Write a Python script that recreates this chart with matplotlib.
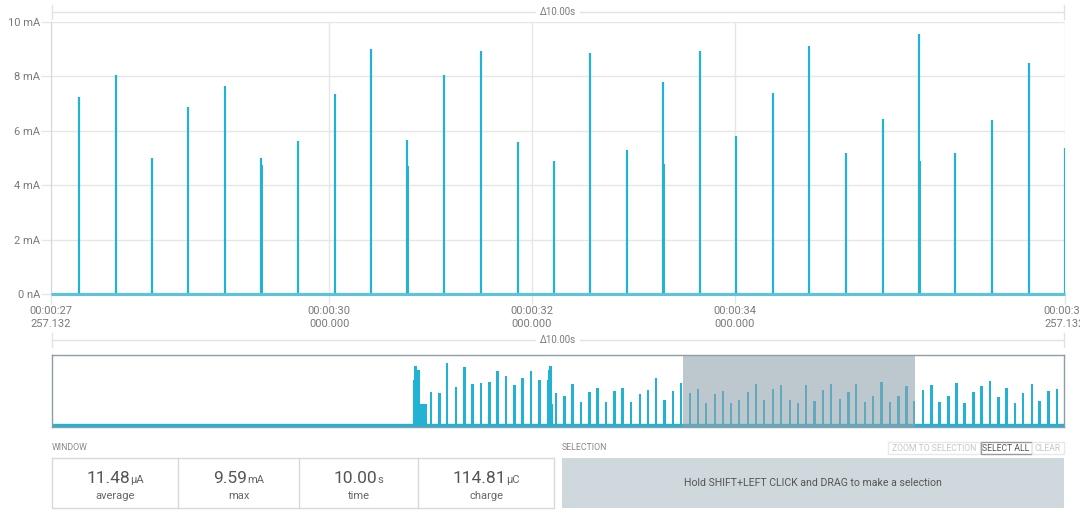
import matplotlib
matplotlib.use("Agg")
import matplotlib.pyplot as plt
from matplotlib.patches import Rectangle

plt.rcParams['font.family'] = ['Roboto', 'DejaVu Sans']

# -----------------------------
# DATA
# -----------------------------
win_start = 27.257132   # s, left edge of the window
win_end = 37.257132     # s, right edge
total_time = 43.71      # s, length of the full recording (overview)

# main window: current spikes (time in s, peak in mA)
spike_t = [27.533, 27.898, 28.254, 28.609, 28.977, 29.329, 29.691, 30.054,
           30.417, 30.770, 31.135, 31.497, 31.858, 32.213, 32.575, 32.937,
           33.293, 33.656, 34.016, 34.378, 34.736, 35.098, 35.459, 35.815,
           36.177, 36.539, 36.900, 37.255]
spike_v = [7.23, 8.04, 5.00, 6.88, 7.64, 5.00, 5.61, 7.34,
           9.00, 5.65, 8.04, 8.92, 5.60, 4.88, 8.87, 5.28,
           7.81, 8.92, 5.80, 7.39, 9.12, 5.17, 6.42, 9.57,
           5.17, 6.40, 8.49, 5.37]
# second, smaller peak right after some events
echo_t = [29.339, 30.780, 33.303, 35.825]
echo_v = [4.75, 4.72, 4.78, 4.89]

# overview: single events (time in s, peak in mA)
ov_t = [16.37, 16.73, 17.06, 17.45, 17.81, 18.16, 18.53, 18.89, 19.24, 19.61,
        19.97, 20.33, 20.70, 21.05, 21.76, 22.13, 22.49, 22.86, 23.21, 23.57,
        23.94, 24.29, 24.65, 25.02, 25.39, 25.73, 26.08, 26.45, 26.81, 27.17,
        27.55, 27.89, 28.25, 28.63, 28.97, 29.32, 29.68, 30.05, 30.41, 30.76,
        31.13, 31.49, 31.87, 32.21, 32.57, 32.93, 33.29, 33.65, 34.03, 34.40,
        34.73, 35.12, 35.46, 35.82, 36.20, 36.56, 36.90, 37.24, 37.62, 37.98,
        38.33, 38.72, 39.06, 39.41, 39.80, 40.14, 40.51, 40.88, 41.22, 41.59,
        41.94, 42.32, 42.66, 43.04, 43.40]
ov_v = [7.33, 7.11, 13.63, 8.44, 12.81, 9.04, 9.33, 9.56, 11.85, 10.81,
        8.81, 10.44, 11.93, 9.93, 7.04, 6.44, 9.11, 5.11, 7.41, 8.30,
        5.19, 7.48, 8.30, 5.11, 6.89, 7.70, 10.37, 5.56, 7.56, 9.26,
        7.19, 8.07, 4.96, 6.89, 7.63, 4.89, 5.56, 7.41, 9.11, 5.56,
        8.07, 8.96, 5.56, 4.81, 8.96, 5.26, 7.85, 9.04, 5.70, 7.41,
        9.19, 5.11, 6.37, 9.63, 5.11, 6.37, 8.59, 5.33, 7.70, 8.96,
        5.11, 6.37, 9.33, 4.81, 7.26, 8.67, 9.85, 6.30, 8.30, 4.96,
        7.11, 9.11, 5.41, 7.56, 8.07]
# overview: dense bursts (connection setup)
burst_t = [15.594, 15.637, 15.680, 15.724, 15.767, 15.810, 15.853, 15.896,
           15.940, 15.983, 16.026, 16.069, 16.112, 16.156,
           21.382, 21.425, 21.469, 21.512, 21.555, 21.598]
burst_v = [10.0, 13.1, 13.1, 13.1, 12.1, 12.1, 12.1, 4.7,
           4.7, 4.7, 4.7, 4.7, 4.7, 4.7,
           10.0, 12.1, 13.1, 13.1, 13.1, 4.7]

y_ticks = [0, 2, 4, 6, 8, 10]
y_labels = ["0 nA", "2 mA", "4 mA", "6 mA", "8 mA", "10 mA"]
x_ticks = [win_start, 30, 32, 34, win_end]
x_labels = ["00:00:27\n257.132", "00:00:30\n000.000", "00:00:32\n000.000",
            "00:00:34\n000.000", "00:00:37\n257.132"]
delta_label = "\u039410.00s"

stat_values = ["11.48", "9.59", "10.00", "114.81"]
stat_units = ["\u00b5A", "mA", "s", "\u00b5C"]
stat_names = ["average", "max", "time", "charge"]

# -----------------------------
# STYLE
# -----------------------------
W, H = 1080, 518
trace = "#22b2d4"
base = "#5ac4dd"
grid_c = "#e6e6e6"
txt = "#7a7a7a"

fig = plt.figure(figsize=(W / 100, H / 100), dpi=100)


def box(left, top, right, bottom):
    return [left / W, 1 - bottom / H, (right - left) / W, (bottom - top) / H]


# -----------------------------
# MAIN WINDOW
# -----------------------------
ax = fig.add_axes(box(51, 22, 1065, 294))
ax.vlines(spike_t, 0, spike_v, color=trace, linewidth=1.6, zorder=3)
ax.vlines(echo_t, 0, echo_v, color=trace, linewidth=1.4, zorder=3)
ax.hlines(0, win_start, win_end, color=base, linewidth=2.2, zorder=4, clip_on=False)
ax.set_xlim(win_start, win_end)
ax.set_ylim(0, 10)
ax.set_xticks(x_ticks)
ax.set_xticklabels(x_labels, linespacing=1.35)
ax.set_yticks(y_ticks)
ax.set_yticklabels(y_labels)
ax.tick_params(axis="both", length=7, width=1, color=grid_c, labelcolor=txt,
               labelsize=8)
ax.tick_params(axis="x", pad=2)
ax.tick_params(axis="y", pad=1)
ax.grid(True, color=grid_c, linewidth=1)
ax.set_axisbelow(True)
for side in ["top", "right", "bottom"]:
    ax.spines[side].set_visible(False)
ax.spines["left"].set_color("#d6d6d6")

# -----------------------------
# OVERVIEW
# -----------------------------
ov = fig.add_axes(box(52, 355, 1064, 427))
ov.bar(ov_t, ov_v, width=0.105, color=trace, linewidth=0, zorder=2)
ov.bar(burst_t, burst_v, width=0.046, color=trace, linewidth=0, zorder=2)
ov.hlines(0, 0, total_time, color=trace, linewidth=2.4, zorder=2)
ov.axvspan(win_start, win_end, color="#90a4ae", alpha=0.6, linewidth=0, zorder=3)
ov.set_xlim(0, total_time)
ov.set_ylim(-0.44, 15.5)
ov.set_xticks([])
ov.set_yticks([])
for side in ov.spines.values():
    side.set_color("#8e9ca5")
    side.set_linewidth(1)

# -----------------------------
# UI LAYER (brackets, stats, selection)
# -----------------------------
ui = fig.add_axes([0, 0, 1, 1], zorder=5)
ui.set_xlim(0, W)
ui.set_ylim(H, 0)
ui.axis("off")

for yb in [12, 340]:
    ui.plot([52, 1064], [yb, yb], color="#dde3e6", linewidth=1)
    ui.plot([52, 52], [yb - 7, yb + 7], color="#dde3e6", linewidth=1)
    ui.plot([1064, 1064], [yb - 7, yb + 7], color="#dde3e6", linewidth=1)
    ui.text(558, yb, delta_label, ha="center", va="center", fontsize=7,
            color=txt, bbox=dict(facecolor="white", edgecolor="none", pad=3))

# window stats
ui.text(52, 448, "WINDOW", ha="left", va="center", fontsize=6.3, color="#888")
edges = [52, 178, 299, 418, 554]
ui.add_patch(Rectangle((edges[0], 458), edges[-1] - edges[0], 50,
                       facecolor="white", edgecolor="#d8d8d8", linewidth=1))
for xe in edges[1:-1]:
    ui.plot([xe, xe], [458, 508], color="#d8d8d8", linewidth=1)

renderer = fig.canvas.get_renderer()
for i in range(len(stat_values)):
    cx = (edges[i] + edges[i + 1]) / 2
    t1 = ui.text(0, 483, stat_values[i], ha="left", va="baseline",
                 fontsize=12.5, color="#555")
    t2 = ui.text(0, 483, stat_units[i], ha="left", va="baseline",
                 fontsize=8, color="#666")
    w1 = t1.get_window_extent(renderer).width
    w2 = t2.get_window_extent(renderer).width
    x0 = cx - (w1 + w2) / 2
    t1.set_x(x0)
    t2.set_x(x0 + w1)
    ui.text(cx, 496, stat_names[i], ha="center", va="center", fontsize=8,
            color="#666")

# selection panel
ui.text(562, 448, "SELECTION", ha="left", va="center", fontsize=6.3, color="#888")
ui.add_patch(Rectangle((562, 458), 502, 50, facecolor="#cfd8dc",
                       edgecolor="none"))
ui.text(813, 483, "Hold SHIFT+LEFT CLICK and DRAG to make a selection",
        ha="center", va="center", fontsize=7.6, color="#555")

buttons = [("ZOOM TO SELECTION", 888, 980, "#c6c6c6", "#e8e8e8"),
           ("SELECT ALL", 980.5, 1031.5, "#555", "#9a9a9a"),
           ("CLEAR", 1032, 1064, "#c6c6c6", "#e8e8e8")]
for label, x_l, x_r, fg, edge in buttons:
    ui.add_patch(Rectangle((x_l, 442), x_r - x_l, 12, facecolor="white",
                           edgecolor=edge, linewidth=1))
    ui.text((x_l + x_r) / 2, 448.3, label, ha="center", va="center",
            fontsize=6.2, color=fg)

fig.savefig("out.png", dpi=100)
